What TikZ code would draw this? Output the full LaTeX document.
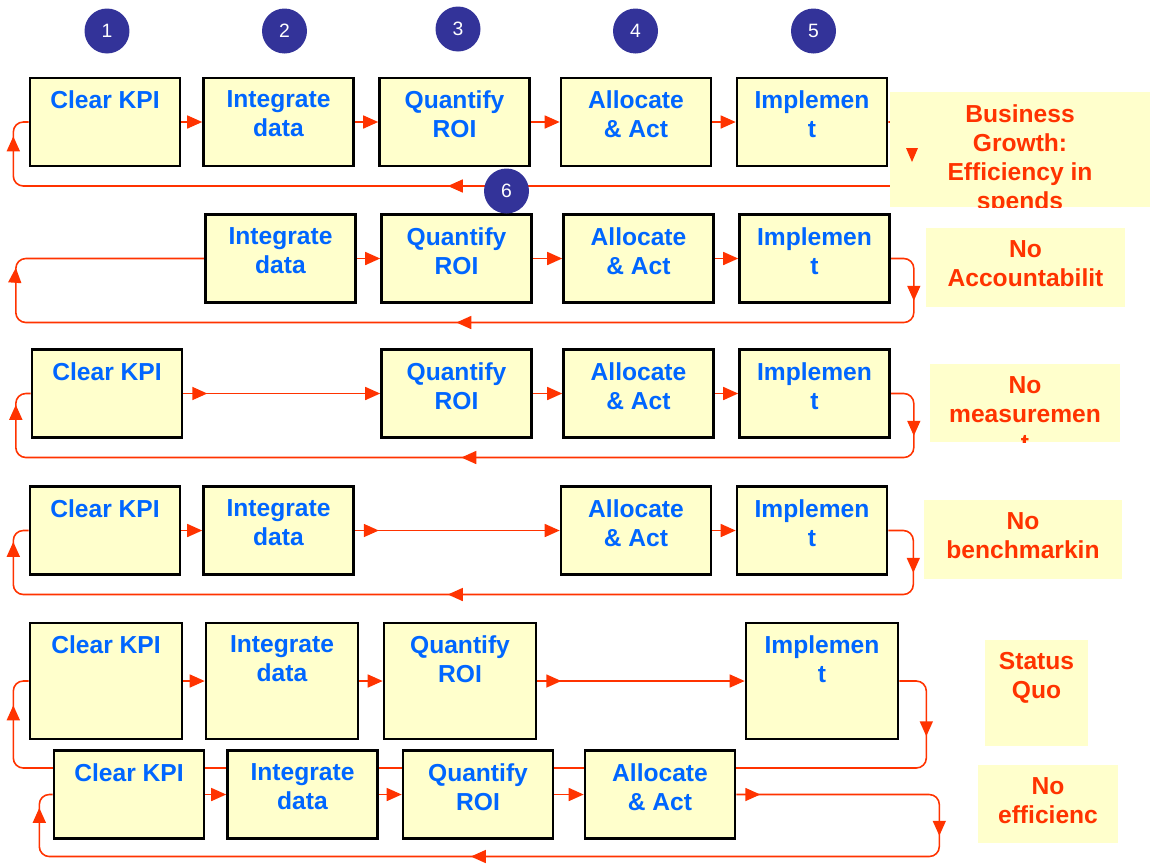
\documentclass[tikz,border=0pt]{standalone}
\usepackage{fontspec}
\setmainfont{Liberation Sans}
\usepackage{xcolor}
\definecolor{kpiblue}{RGB}{0,102,255}
\definecolor{kpired}{RGB}{255,51,0}
\definecolor{kpiyellow}{RGB}{255,255,204}
\definecolor{kpinavy}{RGB}{51,51,153}
\usetikzlibrary{arrows.meta,decorations.markings,backgrounds}

\begin{document}
\begin{tikzpicture}[x=0.02cm, y=-0.02cm,
  stepbox/.style={draw=black, line width=1.5pt, fill=kpiyellow, minimum width=3cm, minimum height=1.76cm, inner sep=0pt},
  steptext/.style={anchor=north, yshift=-0.28cm, inner sep=0pt, font=\fontsize{14}{16.5}\selectfont\bfseries, text=kpiblue, align=center},
  steplabel/.style={label={[steptext]north:{#1}}},
  notebox/.style={fill=kpiyellow, inner sep=0pt},
  notetext/.style={anchor=north, yshift=-0.25cm, inner sep=0pt, font=\fontsize{14}{16.5}\selectfont\bfseries, text=kpired, align=center},
  notelabel/.style={label={[notetext]north:{#1}}},
  numdot/.style={circle, fill=kpinavy, text=white, minimum size=0.9cm, inner sep=0pt, font=\fontsize{11}{13}\selectfont},
  flow/.style={kpired, line width=0.9pt, -{Triangle[length=0.3cm, width=0.26cm]}},
  loopline/.style={kpired, line width=0.9pt, rounded corners=0.2cm},
  tipat/.style={postaction={decorate, decoration={markings, mark=at position #1 with {\arrow{Triangle[length=0.3cm, width=0.26cm]}}}}}]
  \useasboundingbox (0,0) rectangle (1151,863);

  %--- Step numbers ---
  \node[numdot] (n1) at (107,31) {1};
  \node[numdot] (n2) at (284.5,31) {2};
  \node[numdot] (n3) at (458,29) {3};
  \node[numdot] (n4) at (635.5,31) {4};
  \node[numdot] (n5) at (813.5,31) {5};

  %--- Row A: full cycle ---
  \node[stepbox, steplabel={Clear KPI}] (kpiA) at (105,122) {};
  \node[stepbox, steplabel={Integrate\\data}] (intA) at (278.5,122) {};
  \node[stepbox, steplabel={Quantify\\ROI}] (roiA) at (454.5,122) {};
  \node[stepbox, steplabel={Allocate\\\& Act}] (actA) at (636,122) {};
  \node[stepbox, steplabel={Implemen\\t}] (impA) at (812,122) {};

  %--- Row B: no KPI ---
  \node[stepbox, steplabel={Integrate\\data}] (intB) at (280.5,258.5) {};
  \node[stepbox, steplabel={Quantify\\ROI}] (roiB) at (456.5,258.5) {};
  \node[stepbox, steplabel={Allocate\\\& Act}] (actB) at (638.5,258.5) {};
  \node[stepbox, steplabel={Implemen\\t}] (impB) at (814.5,258.5) {};

  %--- Row C: no data ---
  \node[stepbox, steplabel={Clear KPI}] (kpiC) at (107,393.5) {};
  \node[stepbox, steplabel={Quantify\\ROI}] (roiC) at (456.5,393.5) {};
  \node[stepbox, steplabel={Allocate\\\& Act}] (actC) at (638.5,393.5) {};
  \node[stepbox, steplabel={Implemen\\t}] (impC) at (814.5,393.5) {};

  %--- Row D: no ROI ---
  \node[stepbox, steplabel={Clear KPI}] (kpiD) at (105,530.5) {};
  \node[stepbox, steplabel={Integrate\\data}] (intD) at (278.5,530.5) {};
  \node[stepbox, steplabel={Allocate\\\& Act}] (actD) at (636,530.5) {};
  \node[stepbox, steplabel={Implemen\\t}] (impD) at (812,530.5) {};

  %--- Row E: no allocation ---
  \node[stepbox, minimum width=3.04cm, minimum height=2.32cm, steplabel={Clear KPI}] (kpiE) at (106,681) {};
  \node[stepbox, minimum width=3.04cm, minimum height=2.32cm, steplabel={Integrate\\data}] (intE) at (282,681) {};
  \node[stepbox, minimum width=3.04cm, minimum height=2.32cm, steplabel={Quantify\\ROI}] (roiE) at (460,681) {};
  \node[stepbox, minimum width=3.04cm, minimum height=2.32cm, steplabel={Implemen\\t}] (impE) at (822,681) {};

  %--- Row F: no implementation ---
  \node[stepbox, steplabel={Clear KPI}] (kpiF) at (129,794.5) {};
  \node[stepbox, steplabel={Integrate\\data}] (intF) at (302.5,794.5) {};
  \node[stepbox, steplabel={Quantify\\ROI}] (roiF) at (478,794.5) {};
  \node[stepbox, steplabel={Allocate\\\& Act}] (actF) at (660,794.5) {};

  %--- Outcomes ---
  \begin{scope}
    \clip (890,92) rectangle (1150,207);
    \node[notebox, minimum width=5.2cm, minimum height=2.3cm, notelabel={Business\\Growth:\\Efficiency in\\spends}] (growth) at (1020,149.5) {};
  \end{scope}
  \node[notebox, minimum width=3.98cm, minimum height=1.58cm, notelabel={No\\Accountabilit}] (noacc) at (1025.5,267.5) {};
  \begin{scope}
    \clip (930,364) rectangle (1120,442);
    \node[notebox, minimum width=3.8cm, minimum height=1.56cm, notelabel={No\\measuremen\\t}] (nomeas) at (1025,403) {};
  \end{scope}
  \node[notebox, minimum width=3.96cm, minimum height=1.58cm, notelabel={No\\benchmarkin}] (nobench) at (1023,539.5) {};
  \node[notebox, minimum width=2.06cm, minimum height=2.12cm, notelabel={Status\\Quo}] (statusquo) at (1036.5,693) {};
  \node[notebox, minimum width=2.8cm, minimum height=1.56cm, notelabel={No\\efficienc}] (noeff) at (1048,804) {};

  % Connectors go under the boxes
  \begin{scope}[on background layer]
    % Row A
    \draw[flow] (kpiA.east) -- (intA.west);
    \draw[flow] (intA.east) -- (roiA.west);
    \draw[flow] (roiA.east) -- (actA.west);
    \draw[flow] (actA.east) -- (impA.west);
    \draw[loopline, tipat=10.92cm, tipat=20.52cm] (impA.east) -- ++(25,0) -- ++(0,64) -- ++(-900,0) -- ++(0,-64) -- (kpiA.west);
    % Row B
    \draw[flow] (intB.east) -- (roiB.west);
    \draw[flow] (roiB.east) -- (actB.west);
    \draw[flow] (actB.east) -- (impB.west);
    \draw[loopline, tipat=1.22cm, tipat=10.72cm, tipat=20.54cm] (impB.east) -- ++(23,0) -- ++(0,64) -- ++(-898,0) -- ++(0,-64) -- (intB.west);
    % Row C
    \draw[flow, tipat=0.48cm] (kpiC.east) -- (roiC.west);
    \draw[flow] (roiC.east) -- (actC.west);
    \draw[flow] (actC.east) -- (impC.west);
    \draw[loopline, tipat=1.22cm, tipat=10.62cm, tipat=20.5cm] (impC.east) -- ++(23,0) -- ++(0,64) -- ++(-898,0) -- ++(0,-64) -- (kpiC.west);
    % Row D
    \draw[flow] (kpiD.east) -- (intD.west);
    \draw[flow, tipat=0.48cm] (intD.east) -- (actD.west);
    \draw[flow] (actD.east) -- (impD.west);
    \draw[loopline, tipat=1.26cm, tipat=10.92cm, tipat=20.58cm] (impD.east) -- ++(25,0) -- ++(0,64) -- ++(-900,0) -- ++(0,-64) -- (kpiD.west);
    % Row E
    \draw[flow] (kpiE.east) -- (intE.west);
    \draw[flow] (intE.east) -- (roiE.west);
    \draw[flow, tipat=0.48cm] (roiE.east) -- (impE.west);
    \draw[loopline, tipat=1.56cm, tipat=11.4cm, tipat=21.54cm] (impE.east) -- ++(27,0) -- ++(0,87) -- ++(-913,0) -- ++(0,-87) -- (kpiE.west);
    % Row F
    \draw[flow] (kpiF.east) -- (intF.west);
    \draw[flow] (intF.east) -- (roiF.west);
    \draw[flow] (roiF.east) -- (actF.west);
    \draw[loopline, tipat=0.48cm, tipat=4.8cm, tipat=14.5cm, tipat=24.02cm] (actF.east) -- ++(203,0) -- ++(0,62) -- ++(-900,0) -- ++(0,-62) -- (kpiF.west);
  \end{scope}

  % Row A down tip shows over the outcome box
  \fill[kpired] (906,148) -- (918,148) -- (912,162) -- cycle;

  % Step 6
  \node[numdot] (n6) at (506.5,191) {6};
\end{tikzpicture}
\end{document}
